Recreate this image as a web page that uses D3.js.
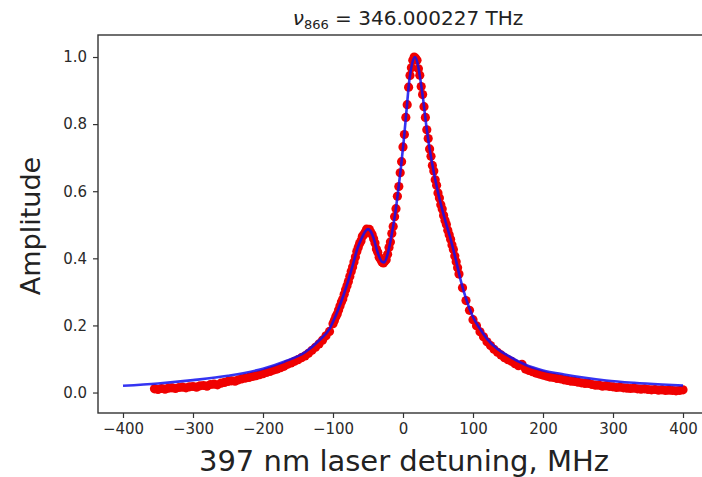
<!DOCTYPE html>
<html>
<head>
<meta charset="utf-8">
<script src="https://cdn.jsdelivr.net/npm/d3@7"></script>
<style>
  body { margin: 0; background: #fff; }
  svg { display: block; font-family: "DejaVu Sans", sans-serif; }
</style>
</head>
<body>
<script>

// Tick values
const xTicks = [-400, -300, -200, -100, 0, 100, 200, 300, 400];
const yTicks = [0.0, 0.2, 0.4, 0.6, 0.8, 1.0];

// Fitted model (blue line), [detuning MHz, amplitude]
const fitCurve = [
    [-400, 0.020], [-350, 0.027], [-300, 0.037], [-250, 0.050], [-200, 0.071],
    [-170, 0.092], [-140, 0.120], [-120, 0.155], [-105, 0.190], [-95, 0.235],
    [-85, 0.290], [-78, 0.335], [-71, 0.385], [-65, 0.430], [-59, 0.460],
    [-54, 0.480], [-50, 0.487], [-46, 0.480], [-42, 0.460], [-38, 0.430],
    [-34, 0.405], [-30, 0.390], [-27, 0.388], [-23, 0.405], [-19, 0.440],
    [-15, 0.485], [-11, 0.535], [-7, 0.600], [-3, 0.670], [1, 0.750],
    [5, 0.840], [9, 0.930], [13, 0.980], [17, 1.000], [21, 0.980],
    [25, 0.930], [29, 0.870], [33, 0.800], [37, 0.740], [41, 0.690],
    [47, 0.625], [53, 0.570], [60, 0.515], [67, 0.465], [75, 0.400],
    [83, 0.330], [90, 0.280], [100, 0.225], [110, 0.190], [120, 0.160],
    [135, 0.130], [150, 0.110], [175, 0.083], [200, 0.066], [230, 0.054],
    [260, 0.044], [290, 0.036], [330, 0.029], [370, 0.024], [400, 0.021]
];

// Measured scan (red points), [detuning MHz, amplitude]
const scanLeft = [
    [-355, 0.011], [-350, 0.009], [-345, 0.012], [-340, 0.010], [-335, 0.013],
    [-330, 0.014], [-325, 0.012], [-320, 0.015], [-315, 0.016], [-310, 0.014],
    [-305, 0.017], [-300, 0.018], [-295, 0.016], [-290, 0.020], [-285, 0.021],
    [-280, 0.019], [-275, 0.024], [-270, 0.025], [-265, 0.023], [-260, 0.028],
    [-255, 0.030], [-250, 0.033], [-245, 0.035], [-240, 0.034], [-235, 0.038],
    [-230, 0.041], [-225, 0.043], [-220, 0.045], [-215, 0.048], [-210, 0.050],
    [-205, 0.053], [-200, 0.056], [-195, 0.060], [-190, 0.063], [-185, 0.067],
    [-180, 0.070], [-175, 0.074], [-170, 0.078], [-165, 0.084], [-160, 0.088],
    [-155, 0.093], [-150, 0.098], [-145, 0.104], [-140, 0.109], [-135, 0.117],
    [-130, 0.126], [-125, 0.135], [-120, 0.145], [-115, 0.156], [-110, 0.169],
    [-105, 0.182]
];

const scanCore = [
    [-100, 0.205], [-98, 0.215], [-96, 0.226], [-94, 0.234], [-92, 0.246],
    [-90, 0.258], [-88, 0.270], [-86, 0.279], [-84, 0.293], [-82, 0.306],
    [-80, 0.318], [-78, 0.331], [-76, 0.346], [-74, 0.361], [-72, 0.374],
    [-70, 0.389], [-68, 0.404], [-66, 0.420], [-64, 0.432], [-62, 0.444],
    [-60, 0.452], [-58, 0.466], [-56, 0.470], [-54, 0.478], [-52, 0.487],
    [-50, 0.484], [-48, 0.486], [-46, 0.477], [-44, 0.470], [-42, 0.458],
    [-40, 0.446], [-38, 0.428], [-36, 0.418], [-34, 0.403], [-32, 0.397],
    [-30, 0.389], [-28, 0.386], [-26, 0.391], [-24, 0.396], [-22, 0.412],
    [-20, 0.432], [-18, 0.449], [-16, 0.474], [-14, 0.495], [-12, 0.524],
    [-10, 0.548], [-8, 0.585], [-6, 0.614], [-4, 0.655], [-2, 0.688],
    [0, 0.732], [2, 0.769], [4, 0.820], [6, 0.858], [8, 0.910],
    [10, 0.945], [12, 0.968], [14, 0.990], [16, 1.000], [18, 0.996],
    [20, 0.990], [22, 0.965], [24, 0.946], [26, 0.912], [28, 0.888],
    [30, 0.852], [32, 0.820], [34, 0.783], [36, 0.757], [38, 0.726],
    [40, 0.704], [42, 0.677], [44, 0.660], [46, 0.634], [48, 0.618],
    [50, 0.595], [52, 0.580], [54, 0.560], [56, 0.547], [58, 0.528],
    [60, 0.513], [62, 0.501], [64, 0.484], [66, 0.470], [68, 0.457],
    [70, 0.440], [72, 0.426], [74, 0.407], [76, 0.390], [78, 0.372],
    [80, 0.353]
];

const scanRight = [
    [85, 0.312], [90, 0.274], [95, 0.245], [100, 0.217], [105, 0.199],
    [110, 0.181], [115, 0.166], [120, 0.151], [125, 0.140], [130, 0.129],
    [135, 0.120], [140, 0.112], [145, 0.104], [150, 0.098], [155, 0.093],
    [160, 0.086], [165, 0.080], [170, 0.084], [175, 0.070], [180, 0.066],
    [185, 0.062], [190, 0.058], [195, 0.055], [200, 0.052], [205, 0.049],
    [210, 0.046], [215, 0.045], [220, 0.042], [225, 0.041], [230, 0.038],
    [235, 0.036], [240, 0.034], [245, 0.033], [250, 0.031], [255, 0.029],
    [260, 0.027], [265, 0.027], [270, 0.024], [275, 0.022], [280, 0.022],
    [285, 0.019], [290, 0.020], [295, 0.018], [300, 0.017], [305, 0.015],
    [310, 0.016], [315, 0.014], [320, 0.013], [325, 0.012], [330, 0.013],
    [335, 0.011], [340, 0.010], [345, 0.011], [350, 0.009], [355, 0.008],
    [360, 0.009], [365, 0.007], [370, 0.008], [375, 0.006], [380, 0.007],
    [385, 0.006], [390, 0.005], [395, 0.006], [400, 0.008]
];

// Display dimensions
const width = 702;
const height = 477;
const plot = { left: 98, right: 708, top: 35, bottom: 413 };

// Scales (matplotlib-like padded limits)
var x = d3.scaleLinear()
    .domain([-435.7, 435.7])
    .range([plot.left, plot.right]);

var y = d3.scaleLinear()
    .domain([-0.061, 1.0656])
    .range([plot.bottom, plot.top]);

// Add SVG
var svg = d3.select("body")
    .append("svg")
    .attr("width", width)
    .attr("height", height);

// Scan points
var scan = scanLeft.concat(scanCore, scanRight);
svg.append("g")
    .selectAll("circle")
    .data(scan)
    .enter()
    .append("circle")
    .attr("cx", d => x(d[0]))
    .attr("cy", d => y(d[1]))
    .attr("r", 4.6)
    .attr("fill", "#f00000");

// Fit line on top
var line = d3.line()
    .x(d => x(d[0]))
    .y(d => y(d[1]))
    .curve(d3.curveMonotoneX);

svg.append("path")
    .datum(fitCurve)
    .attr("d", line)
    .attr("fill", "none")
    .attr("stroke", "#1010f0")
    .attr("stroke-width", 2.6)
    .attr("stroke-opacity", 0.85);

// Axes
var xAxis = d3.axisBottom(x)
    .tickValues(xTicks)
    .tickSize(5)
    .tickPadding(5)
    .tickFormat(d => d < 0 ? "\u2212" + Math.abs(d) : String(d));

var yAxis = d3.axisLeft(y)
    .tickValues(yTicks)
    .tickSize(5)
    .tickPadding(6)
    .tickFormat(d3.format(".1f"));

var gx = svg.append("g")
    .attr("transform", `translate(0,${plot.bottom})`)
    .call(xAxis);

var gy = svg.append("g")
    .attr("transform", `translate(${plot.left},0)`)
    .call(yAxis);

[gx, gy].forEach(g => {
    g.select(".domain").remove();
    g.selectAll(".tick line").attr("stroke", "#333").attr("stroke-width", 1.2);
    g.selectAll(".tick text")
        .attr("fill", "#2a2a2a")
        .style("font-size", "15px")
        .style("font-family", "DejaVu Sans, sans-serif");
});

// Frame (all four spines)
svg.append("rect")
    .attr("x", plot.left)
    .attr("y", plot.top)
    .attr("width", plot.right - plot.left)
    .attr("height", plot.bottom - plot.top)
    .attr("fill", "none")
    .attr("stroke", "#333")
    .attr("stroke-width", 1.4);

// Title with subscript
var title = svg.append("text")
    .attr("x", 408)
    .attr("y", 25)
    .attr("text-anchor", "middle")
    .attr("fill", "#222")
    .style("font-size", "20px");
title.append("tspan").style("font-style", "italic").text("\u03BD");
title.append("tspan").attr("dy", 4).style("font-size", "13px").text("866");
title.append("tspan").attr("dy", -4).text(" = 346.000227 THz");

// Axis labels
svg.append("text")
    .attr("x", 404)
    .attr("y", 471)
    .attr("text-anchor", "middle")
    .attr("fill", "#222")
    .style("font-size", "29px")
    .text("397 nm laser detuning, MHz");

svg.append("text")
    .attr("transform", "translate(40,226) rotate(-90)")
    .attr("text-anchor", "middle")
    .attr("fill", "#222")
    .style("font-size", "27px")
    .text("Amplitude");

</script>
</body>
</html>
